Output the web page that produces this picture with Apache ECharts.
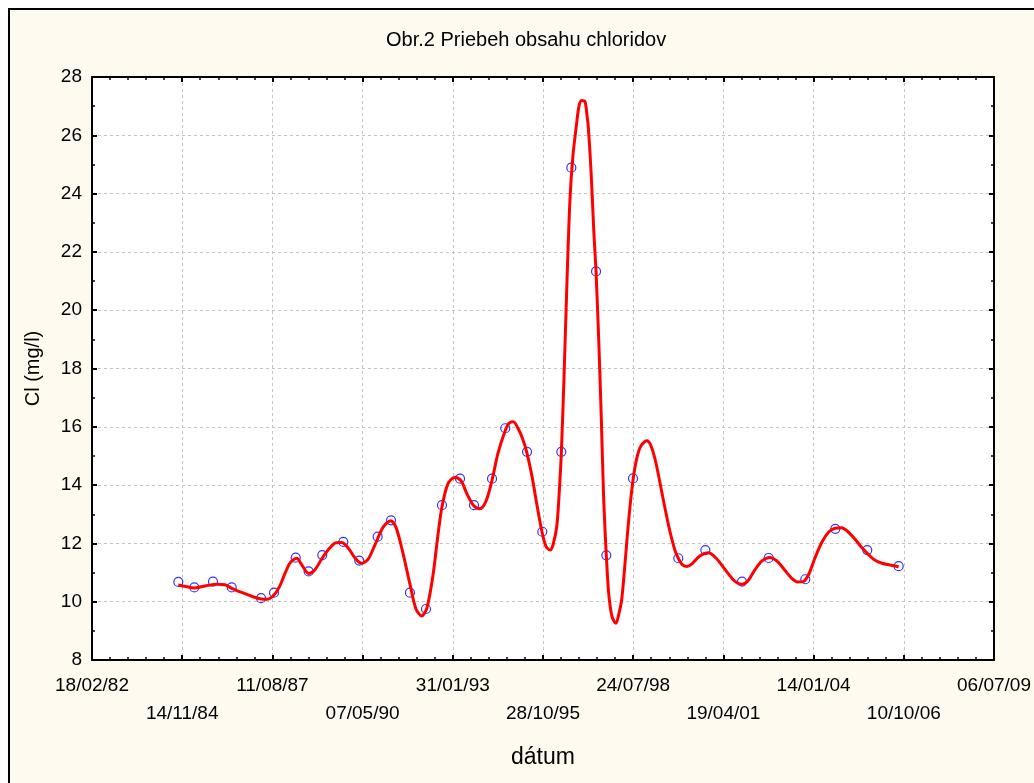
<!DOCTYPE html>
<html>
<head>
<meta charset="utf-8">
<script src="https://cdn.jsdelivr.net/npm/echarts@6/dist/echarts.min.js"></script>
<style>
html,body{margin:0;padding:0;background:#ffffff;}
#chart{width:1034px;height:783px;}
</style>
</head>
<body>
<div id="chart"></div>
<script>
// Sample dates as spreadsheet day serials (30000 = 18/02/82)
const sampleDays = [30957,31134,31341,31549,31874,32018,32258,32402,32553,32786,32963,33167,33315,33525,33703,33880,34080,34235,34435,34582,34823,34992,35203,35314,35588,35702,35998,36500,36800,37206,37502,37908,38241,38595,38943];
// Measured chloride content (mg/l)
const chlorideValues = [10.68,10.49,10.69,10.49,10.12,10.31,11.51,11.04,11.60,12.05,11.41,12.23,12.79,10.31,9.75,13.31,14.22,13.31,14.22,15.95,15.14,12.40,15.14,24.89,21.33,11.59,14.23,11.49,11.77,10.69,11.50,10.77,12.50,11.77,11.22];
// Fitted curve
const curveDays = [30957,31042,31134,31253,31382,31474,31549,31674,31785,31862,31937,32018,32084,32140,32200,32269,32328,32402,32472,32553,32638,32705,32768,32838,32916,32990,33060,33137,33226,33311,33370,33437,33525,33592,33655,33714,33780,33836,33880,33947,34024,34091,34157,34235,34301,34368,34435,34501,34579,34623,34671,34723,34779,34823,34878,34934,34992,35033,35078,35111,35152,35177,35203,35233,35266,35299,35332,35373,35399,35428,35465,35487,35502,35532,35565,35588,35621,35647,35673,35702,35728,35764,35809,35842,35872,35909,35953,35998,36042,36087,36150,36197,36253,36334,36408,36464,36500,36541,36593,36652,36741,36833,36918,37007,37096,37151,37206,37273,37350,37428,37514,37592,37681,37758,37825,37885,37948,38015,38093,38170,38237,38311,38381,38458,38536,38595,38669,38758,38847,38943];
const curveValues = [10.57,10.52,10.47,10.54,10.60,10.58,10.46,10.30,10.17,10.10,10.08,10.23,10.55,10.97,11.35,11.49,11.25,10.97,11.10,11.50,11.85,12.02,12.03,11.85,11.50,11.32,11.45,11.95,12.55,12.78,12.55,11.80,10.60,9.75,9.51,9.80,10.90,12.30,13.26,14.05,14.27,14.15,13.70,13.28,13.19,13.45,14.17,15.10,15.85,16.12,16.17,15.95,15.55,15.09,14.30,13.30,12.35,11.90,11.77,11.95,12.57,13.60,15.09,17.70,21.00,23.80,25.30,26.41,27.00,27.19,27.16,26.70,26.29,24.80,22.60,21.33,18.70,16.23,13.50,11.59,10.30,9.50,9.26,9.60,10.06,11.30,12.90,14.17,14.95,15.35,15.52,15.35,14.75,13.49,12.40,11.75,11.49,11.28,11.21,11.30,11.58,11.68,11.50,11.15,10.80,10.65,10.60,10.72,11.10,11.40,11.52,11.40,11.08,10.80,10.68,10.69,10.95,11.50,12.05,12.40,12.52,12.54,12.40,12.15,11.85,11.66,11.45,11.32,11.26,11.20];
// X tick labels (every 1000 days from 30000 to 40000)
const xTickLabels = ['18/02/82','14/11/84','11/08/87','07/05/90','31/01/93','28/10/95','24/07/98','19/04/01','14/01/04','10/10/06','06/07/09'];

const FONT = 'Arial, "Liberation Sans", sans-serif';
const chart = echarts.init(document.getElementById('chart'), null, {renderer: 'canvas'});

const axisCommon = {
  axisLine: {show: true, onZero: false, lineStyle: {color: '#000', width: 2}},
  axisTick: {show: true, inside: true, length: 5, lineStyle: {color: '#000', width: 2}},
  minorTick: {show: true, length: 3, lineStyle: {color: '#000', width: 1.5}}
};

chart.setOption({
  backgroundColor: '#ffffff',
  animation: false,
  graphic: [{
    type: 'rect', z: -100, silent: true,
    shape: {x: 9, y: 9, width: 1100, height: 900},
    style: {fill: '#fffaf0', stroke: '#000', lineWidth: 2}
  }],
  title: {
    text: 'Obr.2 Priebeh obsahu chloridov',
    left: 381, top: 25,
    textStyle: {fontFamily: FONT, fontSize: 20, fontWeight: 'normal', color: '#000'}
  },
  grid: {left: 92, top: 77, right: 40, bottom: 123, show: true, backgroundColor: '#ffffff', borderWidth: 0},
  xAxis: [
    Object.assign({
      type: 'value', min: 30000, max: 40000, interval: 1000, position: 'bottom',
      name: 'dátum', nameLocation: 'middle', nameGap: 86,
      nameTextStyle: {fontFamily: FONT, fontSize: 23, color: '#000'},
      axisLabel: {
        margin: 12, fontFamily: FONT, fontSize: 19, color: '#000', lineHeight: 28,
        formatter: function (v) {
          const i = Math.round((v - 30000) / 1000);
          const lab = xTickLabels[i] || '';
          return i % 2 === 1 ? '\n' + lab : lab;
        }
      },
      splitLine: {show: true, lineStyle: {color: '#c4c4c4', type: [3, 3], width: 1}}
    }, axisCommon, {minorTick: Object.assign({}, axisCommon.minorTick, {splitNumber: 5})}),
    Object.assign({
      type: 'value', min: 30000, max: 40000, interval: 1000, position: 'top',
      axisLabel: {show: false}, splitLine: {show: false}
    }, axisCommon, {minorTick: Object.assign({}, axisCommon.minorTick, {splitNumber: 5})})
  ],
  yAxis: [
    Object.assign({
      type: 'value', min: 8, max: 28, interval: 2, position: 'left',
      name: 'Cl (mg/l)', nameLocation: 'middle', nameGap: 49,
      nameTextStyle: {fontFamily: FONT, fontSize: 20, color: '#000'},
      axisLabel: {margin: 10, fontFamily: FONT, fontSize: 19, color: '#000'},
      splitLine: {show: true, lineStyle: {color: '#c4c4c4', type: [3, 3], width: 1}}
    }, axisCommon, {minorTick: Object.assign({}, axisCommon.minorTick, {splitNumber: 2})}),
    Object.assign({
      type: 'value', min: 8, max: 28, interval: 2, position: 'right',
      axisLabel: {show: false}, splitLine: {show: false}
    }, axisCommon, {minorTick: Object.assign({}, axisCommon.minorTick, {splitNumber: 2})})
  ],
  series: [
    {
      name: 'Cl', type: 'scatter', xAxisIndex: 0, yAxisIndex: 0,
      symbol: 'circle', symbolSize: 9,
      itemStyle: {color: 'rgba(0,0,0,0)', borderColor: '#0000ff', borderWidth: 1.2},
      data: sampleDays.map((d, i) => [d, chlorideValues[i]]),
      z: 3
    },
    {
      name: 'fit', type: 'line', xAxisIndex: 0, yAxisIndex: 0,
      symbol: 'none', smooth: 0.3,
      lineStyle: {color: '#ff0000', width: 3},
      data: curveDays.map((d, i) => [d, curveValues[i]]),
      z: 4
    }
  ]
});
</script>
</body>
</html>
